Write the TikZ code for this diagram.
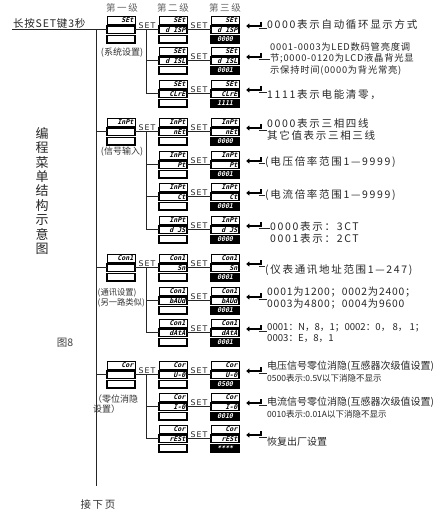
\documentclass[tikz,border=0pt]{standalone}
\usepackage{fontspec}
\setmainfont{Noto Sans CJK SC}
\newfontfamily\cjkA[LetterSpace=16]{Noto Sans CJK SC}
\newfontfamily\cjkB[LetterSpace=8]{Noto Sans CJK SC}
\newfontfamily\segf[FakeSlant=0.25]{DejaVu Sans Mono}
\newfontfamily\setf[LetterSpace=15]{DejaVu Sans}
\usetikzlibrary{arrows.meta,calc}
\tikzset{
  disp/.style={rectangle, minimum width=28pt, minimum height=27pt, inner sep=0pt},
  rowA/.style={draw=black, line width=0.8pt, fill=white},
  rowB/.style={draw=black, line width=1.8pt, fill=white},
  rowV/.style={draw=black, line width=1.2pt, fill=black},
  seg/.style={font=\segf\bfseries\fontsize{6.6}{7}\selectfont, inner sep=0pt, anchor=east},
  segv/.style={font=\segf\bfseries\fontsize{6.6}{7}\selectfont, inner sep=0pt, text=white},
  conn/.style={line width=0.7pt, draw=black!85},
  setlbl/.style={font=\setf\fontsize{7.8}{8}\selectfont, inner sep=0.6pt, anchor=south, text=black!85},
  note/.style={font=\cjkA\fontsize{10.5}{12}\selectfont, anchor=west, align=left, inner sep=0pt, text=black!85},
  notetight/.style={font=\fontsize{9.6}{11}\selectfont, anchor=west, align=left, inner sep=0pt, text=black!85},
  notesm/.style={font=\cjkB\fontsize{9.3}{11.5}\selectfont, anchor=west, align=left, inner sep=0pt, text=black!85},
  notenar/.style={font=\fontsize{10}{12}\selectfont, anchor=west, align=left, inner sep=0pt, text=black!85},
  lbl/.style={font=\fontsize{9}{10}\selectfont, inner sep=0pt, text=black!80, align=left},
  hdr/.style={font=\cjkA\fontsize{9.5}{10}\selectfont, inner sep=0pt, text=black!60},
  retarrow/.style={line width=1.6pt, -{Triangle[length=3.2pt,width=5pt]}}
}
\newcommand\dispL[4]{%
  \node[disp] (#1) at (#2+14,#3+13.5) {};
  \draw[rowA] (#2,#3) rectangle (#2+28,#3+8);
  \node[seg] at (#2+26.5,#3+4.2) {#4};
  \draw[rowB] (#2,#3+10) rectangle (#2+28,#3+17.5);
  \draw[rowB] (#2,#3+19.5) rectangle (#2+28,#3+27);
}
\newcommand\dispM[5]{%
  \node[disp] (#1) at (#2+14,#3+13.5) {};
  \draw[rowA] (#2,#3) rectangle (#2+28,#3+8);
  \node[seg] at (#2+26.5,#3+4.2) {#4};
  \draw[rowB] (#2,#3+10) rectangle (#2+28,#3+17.5);
  \node[seg] at (#2+26.5,#3+14) {#5};
  \draw[rowB] (#2,#3+19.5) rectangle (#2+28,#3+27);
}
\newcommand\dispR[6]{%
  \node[disp] (#1) at (#2+14,#3+13.5) {};
  \draw[rowA] (#2,#3) rectangle (#2+28,#3+8);
  \node[seg] at (#2+26.5,#3+4.2) {#4};
  \draw[rowB] (#2,#3+10) rectangle (#2+28,#3+17.5);
  \node[seg] at (#2+26.5,#3+14) {#5};
  \draw[rowV] (#2,#3+19.5) rectangle (#2+28,#3+27);
  \node[segv] at (#2+14,#3+23.4) {#6};
}
\newcommand\retto[2]{%
  \draw[retarrow] ([xshift=22pt,yshift=7.5pt]#1.east) -- ([xshift=22pt,yshift=3.5pt]#1.east) -- ([xshift=7pt,yshift=3.5pt]#1.east);
  \coordinate (#1r) at ([xshift=20pt,yshift=1.5pt]#1.east);
  \draw[conn] (#1r) -- (#1r -| #2.west);
}
\newcommand\setlink[2]{%
  \draw[conn] (#1.east) -- (#2.west);
  \node[setlbl] at ($(#1.east)!0.5!(#2.west)$) {SET};
}
\begin{document}
\begin{tikzpicture}[x=1pt,y=-1pt]
\useasboundingbox[fill=white] (0,0) rectangle (433,513);

% headers
\node[hdr] (h1) at (122,8) {第一级};
\node[hdr] (h2) at (173,8) {第二级};
\node[hdr] (h3) at (225,8) {第三级};

\node[font=\cjkB\fontsize{10.5}{11}\selectfont, anchor=south west, inner sep=0.8pt, text=black!85] (start) at (12,29.5) {长按SET键3秒};
\coordinate (mtop) at (96,29.5);
\coordinate (mbot) at (96,486);
\draw[conn] (start.south west) -- (mtop) -- (mbot);

% title
\node[font=\fontsize{13}{14.4}\selectfont, align=center, inner sep=0pt, text=black!85] (title) at (42,191) {编\\程\\菜\\单\\结\\构\\示\\意\\图};
\node[font=\fontsize{10.5}{11}\selectfont, inner sep=0pt, text=black!75] (fig) at (65,343) {图8};
\node[font=\cjkA\fontsize{10.5}{11}\selectfont, inner sep=0pt, text=black!80] (next) at (98,505) {接下页};

\coordinate (bx) at (146,0);

% ---------- section 1 ----------
\dispL{s1L}{107}{16}{SEt}
\dispM{s1a}{159}{16}{SEt}{d ISP}
\dispM{s1b}{159}{47}{SEt}{d ISL}
\dispM{s1c}{159}{80}{SEt}{CLrE}
\dispR{s1A}{211}{16}{SEt}{d ISP}{0000}
\dispR{s1B}{211}{47}{SEt}{d ISL}{0001}
\dispR{s1C}{211}{80}{SEt}{CLrE}{1111}
\node[lbl] (s1lbl) at (122,53) {(系统设置)};
\draw[conn] (mtop) -- (s1L.west);
\setlink{s1L}{s1a}
\draw[conn] (bx |- s1L.east) |- (s1c.west);
\draw[conn] (bx |- s1b.west) -- (s1b.west);
\setlink{s1a}{s1A}
\setlink{s1b}{s1B}
\setlink{s1c}{s1C}
\node[note] (n1a) at (267,25) {0000表示自动循环显示方式};
\node[notesm] (n1b) at (270,58.5) {0001-0003为LED数码管亮度调\\节;0000-0120为LCD液晶背光显\\示保持时间(0000为背光常亮)};
\node[note] (n1c) at (267,95) {1111表示电能清零，};
\retto{s1A}{n1a}
\retto{s1B}{n1b}
\retto{s1C}{n1c}

% ---------- section 2 ----------
\dispL{s2L}{107}{118}{InPt}
\dispM{s2a}{159}{118}{InPt}{nEt}
\dispM{s2b}{159}{151}{InPt}{Pt}
\dispM{s2c}{159}{183}{InPt}{Ct}
\dispM{s2d}{159}{216}{InPt}{d JS}
\dispR{s2A}{211}{118}{InPt}{nEt}{0000}
\dispR{s2B}{211}{151}{InPt}{Pt}{0001}
\dispR{s2C}{211}{183}{InPt}{Ct}{0001}
\dispR{s2D}{211}{216}{InPt}{d JS}{0000}
\node[lbl] (s2lbl) at (122,152) {(信号输入)};
\draw[conn] (mtop |- s2L.west) -- (s2L.west);
\setlink{s2L}{s2a}
\draw[conn] (bx |- s2L.east) |- (s2d.west);
\draw[conn] (bx |- s2b.west) -- (s2b.west);
\draw[conn] (bx |- s2c.west) -- (s2c.west);
\setlink{s2a}{s2A}
\setlink{s2b}{s2B}
\setlink{s2c}{s2C}
\setlink{s2d}{s2D}
\node[note] (n2a) at (267,129) {0000表示三相四线\\其它值表示三相三线};
\node[note] (n2b) at (265,162) {(电压倍率范围1—9999)};
\node[note] (n2c) at (265,195) {(电流倍率范围1—9999)};
\node[note] (n2d) at (270,232.5) {0000表示：3CT\\0001表示：2CT};
\retto{s2A}{n2a}
\retto{s2B}{n2b}
\retto{s2C}{n2c}
\retto{s2D}{n2d}

% ---------- section 3 ----------
\dispL{s3L}{107}{254}{Con1}
\dispM{s3a}{159}{254}{Con1}{Sn}
\dispM{s3b}{159}{287}{Con1}{bAUd}
\dispM{s3c}{159}{319}{Con1}{dAtA}
\dispR{s3A}{211}{254}{Con1}{Sn}{0001}
\dispR{s3B}{211}{287}{Con1}{bAUd}{0001}
\dispR{s3C}{211}{319}{Con1}{dAtA}{0001}
\node[lbl, font=\fontsize{8.3}{9.5}\selectfont, anchor=west] (s3lbl) at (97.5,298) {(通讯设置)\\(另一路类似)};
\draw[conn] (mtop |- s3L.west) -- (s3L.west);
\setlink{s3L}{s3a}
\draw[conn] (bx |- s3L.east) |- (s3c.west);
\draw[conn] (bx |- s3b.west) -- (s3b.west);
\setlink{s3a}{s3A}
\setlink{s3b}{s3B}
\setlink{s3c}{s3C}
\node[note] (n3a) at (265,270) {(仪表通讯地址范围1—247)};
\node[note, font=\cjkB\fontsize{10.3}{12}\selectfont] (n3b) at (267,298) {0001为1200；0002为2400；\\0003为4800；0004为9600};
\node[notetight] (n3c) at (267,333) {0001：N，8，1；0002：0， 8， 1；\\0003：E，8，1};
\retto{s3A}{n3a}
\retto{s3B}{n3b}
\retto{s3C}{n3c}

% ---------- section 4 ----------
\dispL{s4L}{107}{361}{Cor}
\dispM{s4a}{159}{361}{Cor}{U-0}
\dispM{s4b}{159}{393}{Cor}{I-0}
\dispM{s4c}{159}{425}{Cor}{rESt}
\dispR{s4A}{211}{361}{Cor}{U-0}{0500}
\dispR{s4B}{211}{393}{Cor}{I-0}{0010}
\dispR{s4C}{211}{425}{Cor}{rESt}{****}
\node[lbl, anchor=west] (s4lbl) at (93,404) {（零位消隐\\设置）};
\draw[conn] (mtop |- s4L.west) -- (s4L.west);
\setlink{s4L}{s4a}
\draw[conn] (bx |- s4L.east) |- (s4c.west);
\draw[conn] (bx |- s4b.west) -- (s4b.west);
\setlink{s4a}{s4A}
\setlink{s4b}{s4B}
\setlink{s4c}{s4C}
\node[notenar] (n4a) at (267,372) {电压信号零位消隐(互感器次级值设置)\\{\fontsize{8.5}{10}\selectfont 0500表示:0.5V以下消隐不显示}};
\node[notenar] (n4b) at (267,407.5) {电流信号零位消隐(互感器次级值设置)\\{\fontsize{8.5}{10}\selectfont 0010表示:0.01A以下消隐不显示}};
\node[notenar] (n4c) at (267,442) {恢复出厂设置};
\retto{s4A}{n4a}
\retto{s4B}{n4b}
\retto{s4C}{n4c}
\end{tikzpicture}
\end{document}
